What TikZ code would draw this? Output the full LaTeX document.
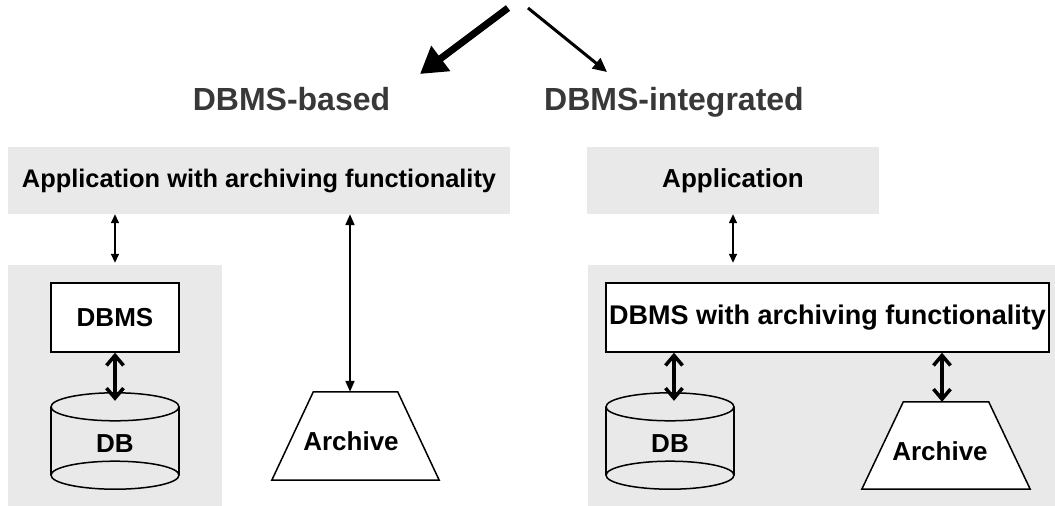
\documentclass[tikz,border=0pt]{standalone}
\usepackage{fontspec}
\setmainfont{Liberation Sans}
\usetikzlibrary{arrows.meta,calc}
\definecolor{panelgray}{RGB}{233,233,233}
\definecolor{titlegray}{RGB}{56,56,56}
\newcommand{\bodysize}[1]{\fontsize{#1}{#1}\selectfont\bfseries}
\begin{document}
\begin{tikzpicture}[x=1pt,y=-1pt,
  panel/.style={fill=panelgray,draw=none,inner sep=0pt,text=black},
  title/.style={font=\fontsize{32}{36}\selectfont\bfseries,text=titlegray,anchor=base,inner sep=0pt},
  boxnode/.style={draw=black,line width=1.5pt,fill=white,inner sep=0pt,text=black},
  plainnode/.style={inner sep=0pt,text=black},
  outline/.style={draw=black,line width=1.5pt},
  thinlink/.style={line width=1.4pt,{Triangle[length=9pt,width=8pt]}-{Triangle[length=9pt,width=8pt]}},
  longlink/.style={line width=2pt,{Triangle[length=11pt,width=9pt]}-{Triangle[length=11pt,width=9pt]}},
  thicklink/.style={line width=3.5pt,{Straight Barb[length=10pt,width=17pt]}-{Straight Barb[length=10pt,width=17pt]}}
]
\useasboundingbox (0,0) rectangle (1055,506);

% grey panels
\node[panel,minimum width=502pt,minimum height=67pt,font=\bodysize{25.4}] (app1) at (259,180.5) {Application with archiving functionality};
\node[panel,minimum width=292pt,minimum height=67pt,font=\bodysize{26}] (app2) at (733,180.5) {Application};
\node[panel,minimum width=214pt,minimum height=241pt] (sys1) at (115,385.5) {};
\node[panel,minimum width=467pt,minimum height=241pt] (sys2) at (821.5,385.5) {};

% titles and the two branching arrows
\node[title] (tleft) at (291.5,110) {DBMS-based};
\node[title] (tright) at (674,110) {DBMS-integrated};
\coordinate (splitA) at (508,8);
\coordinate (splitB) at (528,8);
\coordinate (tipA) at (420,74);
\coordinate (tipB) at (607,72);
\draw[line width=7pt,-{Triangle[length=26pt,width=30pt]}] (splitA) -- (tipA);
\draw[line width=3pt,-{Triangle[length=14pt,width=13pt]}] (splitB) -- (tipB);

% DBMS boxes
\node[boxnode,minimum width=128pt,minimum height=69pt,font=\bodysize{26}] (dbms1) at (115,317.5) {DBMS};
\node[boxnode,minimum width=443pt,minimum height=69pt,font=\bodysize{27}] (dbms2) at (827.5,317.5) {DBMS with archiving functionality};

% database cylinders: bounding nodes with the outline drawn around them
\node[plainnode,minimum width=128pt,minimum height=97pt,font=\bodysize{26},
      text height=24pt,text depth=0pt] (db1) at (115,440.5) {DB};
\node[plainnode,minimum width=128pt,minimum height=97pt,font=\bodysize{26},
      text height=24pt,text depth=0pt] (db2) at (670,440.5) {DB};
\foreach \c in {db1,db2}{
  \draw[outline] ($(\c.north west)+(0,15)$) -- ($(\c.south west)+(0,-14)$);
  \draw[outline] ($(\c.north east)+(0,15)$) -- ($(\c.south east)+(0,-14)$);
  \draw[outline] ($(\c.north)+(0,15)$) ellipse[x radius=64pt,y radius=14pt];
  \draw[outline] ($(\c.south)+(0,-14)$) ellipse[x radius=64pt,y radius=14pt];
}

% archives: bounding nodes with a trapezoid outline
\node[plainnode,minimum width=167pt,minimum height=88pt] (arch1) at (355.5,436) {};
\node[plainnode,minimum width=168pt,minimum height=87pt] (arch2) at (946,445.5) {};
\foreach \c in {arch1,arch2}{
  \draw[outline,fill=white] ([xshift=41.5pt]\c.north west) -- ([xshift=-41.5pt]\c.north east)
    -- (\c.south east) -- (\c.south west) -- cycle;
}
\node[plainnode,font=\bodysize{26},anchor=base] (arch1label) at ([xshift=-4.5pt,yshift=-14pt]arch1.center) {Archive};
\node[plainnode,font=\bodysize{26},anchor=base] (arch2label) at ([xshift=-6pt,yshift=-14.5pt]arch2.center) {Archive};

% connectors
\draw[thinlink,shorten >=2pt] (app1.south -| dbms1.north) -- (sys1.north -| dbms1.north);
\draw[longlink] ([xshift=91pt]app1.south) -- ([xshift=-5.5pt]arch1.north);
\draw[thinlink,shorten >=2pt] (app2.south) -- (sys2.north -| app2.south);
\draw[thicklink] (dbms1.south) -- ($(db1.north)+(0,9)$);
\draw[thicklink] ([xshift=-153.5pt]dbms2.south) -- ($(db2.north)+(4,9)$);
\draw[thicklink] ([xshift=114.5pt]dbms2.south) -- ([xshift=-4pt]arch2.north);
\end{tikzpicture}
\end{document}
